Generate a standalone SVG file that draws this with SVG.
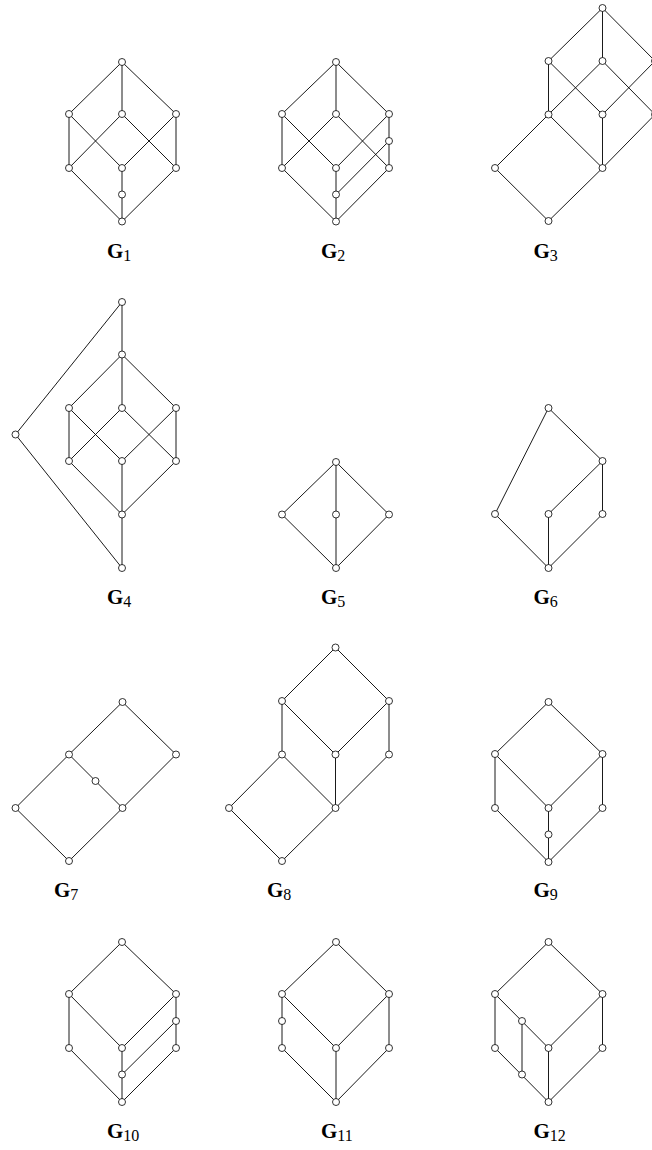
<svg xmlns="http://www.w3.org/2000/svg" width="652" height="1150" viewBox="0 0 652 1150">
<style>
.e{fill:none;stroke:#000;stroke-width:0.9}
.n circle{fill:#fff;stroke:#000;stroke-width:0.8}
.lbl{font-family:"Liberation Serif","DejaVu Serif",serif;font-size:21px;font-weight:bold;fill:#000}
.sub{font-size:16px;font-weight:normal}
</style>
<rect width="652" height="1150" fill="#fff"/>
<g id="connectors">
<path id="g1-edges" class="e" d="M122 62L69 114M122 62L122 114M122 62L176 114M69 114L69 168M69 114L122 168M122 114L69 168M122 114L176 168M176 114L122 168M176 114L176 168M69 168L122 221.5M122 168L122 221.5M176 168L122 221.5"/>
<path id="g2-edges" class="e" d="M336 62L282 114M336 62L336 114M336 62L389 114M282 114L282 168M282 114L336 168M336 114L282 168M336 114L389 168M389 114L336 168M389 114L389 168M389 141L336 194.5M282 168L336 221.5M336 168L336 221.5M389 168L336 221.5"/>
<path id="g3-edges" class="e" d="M602.5 8L548.5 61M602.5 8L602.5 61M602.5 8L655 61M548.5 61L548.5 114.5M548.5 61L602.5 114.5M602.5 61L548.5 114.5M602.5 61L655 114.5M655 61L602.5 114.5M655 61L655 114.5M548.5 114.5L495 168M548.5 114.5L602.5 168M602.5 114.5L602.5 168M655 114.5L602.5 168M495 168L548.5 221M602.5 168L548.5 221"/>
<path id="g4-edges" class="e" d="M122 302L122 354.5M122 302L15.5 434.5M15.5 434.5L122 568M122 354.5L69 408M122 354.5L122 408M122 354.5L176 408M69 408L69 461M69 408L122 461M122 408L69 461M122 408L176 461M176 408L122 461M176 408L176 461M69 461L122 514.5M122 461L122 514.5M176 461L122 514.5M122 514.5L122 568"/>
<path id="g5-edges" class="e" d="M336 462L282 514.5M336 462L336 514.5M336 462L389 514.5M282 514.5L336 568M336 514.5L336 568M389 514.5L336 568"/>
<path id="g6-edges" class="e" d="M548.5 408L495 514M548.5 408L602.5 461M602.5 461L548.5 514M602.5 461L602.5 514M495 514L548.5 568M548.5 514L548.5 568M602.5 514L548.5 568"/>
<path id="g7-edges" class="e" d="M122.5 702L69 754.5M122.5 702L176 754.5M69 754.5L122.5 808M69 754.5L15.5 808M176 754.5L122.5 808M15.5 808L69 861M122.5 808L69 861"/>
<path id="g8-edges" class="e" d="M335.5 647.5L282 701M335.5 647.5L389 701M282 701L282 754.5M282 701L335.5 754.5M389 701L335.5 754.5M389 701L389 754.5M282 754.5L229 808M282 754.5L335.5 808M335.5 754.5L335.5 808M389 754.5L335.5 808M229 808L282 861M335.5 808L282 861"/>
<path id="g9-edges" class="e" d="M548.5 702L495 754M548.5 702L602.5 754M495 754L495 808M495 754L548.5 808M602.5 754L548.5 808M602.5 754L602.5 808M495 808L548.5 862M548.5 808L548.5 862M602.5 808L548.5 862"/>
<path id="g10-edges" class="e" d="M122 942L69 994M122 942L176 994M69 994L69 1048M69 994L122 1048M176 994L122 1048M176 994L176 1048M176 1021L122 1074.5M69 1048L122 1102M122 1048L122 1102M176 1048L122 1102"/>
<path id="g11-edges" class="e" d="M336 942L282 994M336 942L389 994M282 994L282 1048M282 994L336 1048M389 994L336 1048M389 994L389 1048M282 1048L336 1102M336 1048L336 1102M389 1048L336 1102"/>
<path id="g12-edges" class="e" d="M548.5 942L495 994M548.5 942L602.5 994M495 994L495 1048M495 994L548.5 1048M602.5 994L548.5 1048M602.5 994L602.5 1048M522 1021L522 1074.5M495 1048L548.5 1102M548.5 1048L548.5 1102M602.5 1048L548.5 1102"/>
</g>
<g id="nodes" class="n">
<g id="g1-n1"><circle cx="122" cy="62" r="3.5"/></g>
<g id="g1-n2"><circle cx="69" cy="114" r="3.5"/></g>
<g id="g1-n3"><circle cx="122" cy="114" r="3.5"/></g>
<g id="g1-n4"><circle cx="176" cy="114" r="3.5"/></g>
<g id="g1-n5"><circle cx="69" cy="168" r="3.5"/></g>
<g id="g1-n6"><circle cx="122" cy="168" r="3.5"/></g>
<g id="g1-n7"><circle cx="176" cy="168" r="3.5"/></g>
<g id="g1-n8"><circle cx="122" cy="194.5" r="3.5"/></g>
<g id="g1-n9"><circle cx="122" cy="221.5" r="3.5"/></g>

<g id="g2-n1"><circle cx="336" cy="62" r="3.5"/></g>
<g id="g2-n2"><circle cx="282" cy="114" r="3.5"/></g>
<g id="g2-n3"><circle cx="336" cy="114" r="3.5"/></g>
<g id="g2-n4"><circle cx="389" cy="114" r="3.5"/></g>
<g id="g2-n5"><circle cx="389" cy="141" r="3.5"/></g>
<g id="g2-n6"><circle cx="282" cy="168" r="3.5"/></g>
<g id="g2-n7"><circle cx="336" cy="168" r="3.5"/></g>
<g id="g2-n8"><circle cx="389" cy="168" r="3.5"/></g>
<g id="g2-n9"><circle cx="336" cy="194.5" r="3.5"/></g>
<g id="g2-n10"><circle cx="336" cy="221.5" r="3.5"/></g>

<g id="g3-n1"><circle cx="602.5" cy="8" r="3.5"/></g>
<g id="g3-n2"><circle cx="548.5" cy="61" r="3.5"/></g>
<g id="g3-n3"><circle cx="602.5" cy="61" r="3.5"/></g>
<g id="g3-n4"><circle cx="655" cy="61" r="3.5"/></g>
<g id="g3-n5"><circle cx="548.5" cy="114.5" r="3.5"/></g>
<g id="g3-n6"><circle cx="602.5" cy="114.5" r="3.5"/></g>
<g id="g3-n7"><circle cx="655" cy="114.5" r="3.5"/></g>
<g id="g3-n8"><circle cx="495" cy="168" r="3.5"/></g>
<g id="g3-n9"><circle cx="602.5" cy="168" r="3.5"/></g>
<g id="g3-n10"><circle cx="548.5" cy="221" r="3.5"/></g>

<g id="g4-n1"><circle cx="122" cy="302" r="3.5"/></g>
<g id="g4-n2"><circle cx="122" cy="354.5" r="3.5"/></g>
<g id="g4-n3"><circle cx="69" cy="408" r="3.5"/></g>
<g id="g4-n4"><circle cx="122" cy="408" r="3.5"/></g>
<g id="g4-n5"><circle cx="176" cy="408" r="3.5"/></g>
<g id="g4-n6"><circle cx="15.5" cy="434.5" r="3.5"/></g>
<g id="g4-n7"><circle cx="69" cy="461" r="3.5"/></g>
<g id="g4-n8"><circle cx="122" cy="461" r="3.5"/></g>
<g id="g4-n9"><circle cx="176" cy="461" r="3.5"/></g>
<g id="g4-n10"><circle cx="122" cy="514.5" r="3.5"/></g>
<g id="g4-n11"><circle cx="122" cy="568" r="3.5"/></g>

<g id="g5-n1"><circle cx="336" cy="462" r="3.5"/></g>
<g id="g5-n2"><circle cx="282" cy="514.5" r="3.5"/></g>
<g id="g5-n3"><circle cx="336" cy="514.5" r="3.5"/></g>
<g id="g5-n4"><circle cx="389" cy="514.5" r="3.5"/></g>
<g id="g5-n5"><circle cx="336" cy="568" r="3.5"/></g>

<g id="g6-n1"><circle cx="548.5" cy="408" r="3.5"/></g>
<g id="g6-n2"><circle cx="602.5" cy="461" r="3.5"/></g>
<g id="g6-n3"><circle cx="495" cy="514" r="3.5"/></g>
<g id="g6-n4"><circle cx="548.5" cy="514" r="3.5"/></g>
<g id="g6-n5"><circle cx="602.5" cy="514" r="3.5"/></g>
<g id="g6-n6"><circle cx="548.5" cy="568" r="3.5"/></g>

<g id="g7-n1"><circle cx="122.5" cy="702" r="3.5"/></g>
<g id="g7-n2"><circle cx="69" cy="754.5" r="3.5"/></g>
<g id="g7-n3"><circle cx="176" cy="754.5" r="3.5"/></g>
<g id="g7-n4"><circle cx="95.5" cy="781" r="3.5"/></g>
<g id="g7-n5"><circle cx="15.5" cy="808" r="3.5"/></g>
<g id="g7-n6"><circle cx="122.5" cy="808" r="3.5"/></g>
<g id="g7-n7"><circle cx="69" cy="861" r="3.5"/></g>

<g id="g8-n1"><circle cx="335.5" cy="647.5" r="3.5"/></g>
<g id="g8-n2"><circle cx="282" cy="701" r="3.5"/></g>
<g id="g8-n3"><circle cx="389" cy="701" r="3.5"/></g>
<g id="g8-n4"><circle cx="282" cy="754.5" r="3.5"/></g>
<g id="g8-n5"><circle cx="335.5" cy="754.5" r="3.5"/></g>
<g id="g8-n6"><circle cx="389" cy="754.5" r="3.5"/></g>
<g id="g8-n7"><circle cx="229" cy="808" r="3.5"/></g>
<g id="g8-n8"><circle cx="335.5" cy="808" r="3.5"/></g>
<g id="g8-n9"><circle cx="282" cy="861" r="3.5"/></g>

<g id="g9-n1"><circle cx="548.5" cy="702" r="3.5"/></g>
<g id="g9-n2"><circle cx="495" cy="754" r="3.5"/></g>
<g id="g9-n3"><circle cx="602.5" cy="754" r="3.5"/></g>
<g id="g9-n4"><circle cx="495" cy="808" r="3.5"/></g>
<g id="g9-n5"><circle cx="548.5" cy="808" r="3.5"/></g>
<g id="g9-n6"><circle cx="602.5" cy="808" r="3.5"/></g>
<g id="g9-n7"><circle cx="548.5" cy="834.5" r="3.5"/></g>
<g id="g9-n8"><circle cx="548.5" cy="862" r="3.5"/></g>

<g id="g10-n1"><circle cx="122" cy="942" r="3.5"/></g>
<g id="g10-n2"><circle cx="69" cy="994" r="3.5"/></g>
<g id="g10-n3"><circle cx="176" cy="994" r="3.5"/></g>
<g id="g10-n4"><circle cx="176" cy="1021" r="3.5"/></g>
<g id="g10-n5"><circle cx="69" cy="1048" r="3.5"/></g>
<g id="g10-n6"><circle cx="122" cy="1048" r="3.5"/></g>
<g id="g10-n7"><circle cx="176" cy="1048" r="3.5"/></g>
<g id="g10-n8"><circle cx="122" cy="1074.5" r="3.5"/></g>
<g id="g10-n9"><circle cx="122" cy="1102" r="3.5"/></g>

<g id="g11-n1"><circle cx="336" cy="942" r="3.5"/></g>
<g id="g11-n2"><circle cx="282" cy="994" r="3.5"/></g>
<g id="g11-n3"><circle cx="389" cy="994" r="3.5"/></g>
<g id="g11-n4"><circle cx="282" cy="1021" r="3.5"/></g>
<g id="g11-n5"><circle cx="282" cy="1048" r="3.5"/></g>
<g id="g11-n6"><circle cx="336" cy="1048" r="3.5"/></g>
<g id="g11-n7"><circle cx="389" cy="1048" r="3.5"/></g>
<g id="g11-n8"><circle cx="336" cy="1102" r="3.5"/></g>

<g id="g12-n1"><circle cx="548.5" cy="942" r="3.5"/></g>
<g id="g12-n2"><circle cx="495" cy="994" r="3.5"/></g>
<g id="g12-n3"><circle cx="602.5" cy="994" r="3.5"/></g>
<g id="g12-n4"><circle cx="522" cy="1021" r="3.5"/></g>
<g id="g12-n5"><circle cx="495" cy="1048" r="3.5"/></g>
<g id="g12-n6"><circle cx="548.5" cy="1048" r="3.5"/></g>
<g id="g12-n7"><circle cx="602.5" cy="1048" r="3.5"/></g>
<g id="g12-n8"><circle cx="522" cy="1074.5" r="3.5"/></g>
<g id="g12-n9"><circle cx="548.5" cy="1102" r="3.5"/></g>
</g>
<g id="labels" class="lbl">
<text x="107" y="258">G<tspan class="sub" dy="3">1</tspan></text>
<text x="321" y="258">G<tspan class="sub" dy="3">2</tspan></text>
<text x="533.5" y="258">G<tspan class="sub" dy="3">3</tspan></text>
<text x="107" y="604">G<tspan class="sub" dy="3">4</tspan></text>
<text x="321" y="604">G<tspan class="sub" dy="3">5</tspan></text>
<text x="533.5" y="604">G<tspan class="sub" dy="3">6</tspan></text>
<text x="54" y="897">G<tspan class="sub" dy="3">7</tspan></text>
<text x="267" y="897">G<tspan class="sub" dy="3">8</tspan></text>
<text x="533.5" y="897">G<tspan class="sub" dy="3">9</tspan></text>
<text x="107" y="1138">G<tspan class="sub" dy="3">10</tspan></text>
<text x="321" y="1138">G<tspan class="sub" dy="3">11</tspan></text>
<text x="533.5" y="1138">G<tspan class="sub" dy="3">12</tspan></text>
</g>
</svg>
